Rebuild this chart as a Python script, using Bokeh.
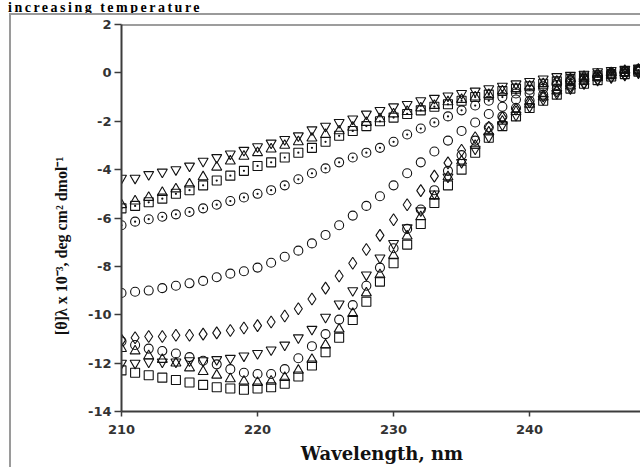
from bokeh.plotting import figure
from bokeh.models import Span, Div, FixedTicker, Range1d
from bokeh.layouts import column
from bokeh.embed import file_html
from bokeh.resources import INLINE

# ---------------- data ----------------
wavelength = list(range(210, 249))

tri_down_top = [-4.35, -4.35, -4.2, -4.1, -4.0, -3.85, -3.65, -3.5, -3.35, -3.2, -3.05,
                -2.9, -2.75, -2.6, -2.35, -2.2, -2.05, -1.9, -1.7, -1.55, -1.4, -1.3,
                -1.15, -1.05, -0.95, -0.85, -0.75, -0.65, -0.55, -0.45, -0.35, -0.25, -0.15,
                -0.1, -0.05, 0.05, 0.1, 0.15, 0.2]
tri_up_top = [-5.45, -5.3, -5.15, -4.95, -4.8, -4.6, -4.3, -3.9, -3.65, -3.45, -3.3,
              -3.15, -3.0, -2.85, -2.7, -2.55, -2.4, -2.25, -2.05, -1.9, -1.7, -1.6,
              -1.45, -1.35, -1.2, -1.1, -1.0, -0.9, -0.75, -0.65, -0.55, -0.45, -0.35,
              -0.25, -0.15, -0.05, 0.0, 0.1, 0.15]
square_dot = [-5.6, -5.5, -5.35, -5.2, -5.0, -4.85, -4.65, -4.45, -4.25, -4.05, -3.85,
              -3.7, -3.5, -3.3, -3.1, -2.85, -2.6, -2.4, -2.2, -2.0, -1.85, -1.7,
              -1.55, -1.4, -1.3, -1.15, -1.0, -0.9, -0.75, -0.65, -0.55, -0.45, -0.35,
              -0.25, -0.15, -0.1, -0.05, 0.05, 0.1]
circle_dot = [-6.3, -6.15, -6.05, -5.95, -5.85, -5.75, -5.6, -5.45, -5.3, -5.15, -5.0,
              -4.85, -4.65, -4.4, -4.15, -3.95, -3.7, -3.5, -3.3, -3.1, -2.85, -2.55,
              -2.3, -2.05, -1.8, -1.55, -1.35, -1.15, -1.0, -0.85, -0.7, -0.55, -0.4,
              -0.3, -0.2, -0.1, 0.0, 0.05, 0.1]
circle_mid = [-9.1, -9.05, -9.0, -8.9, -8.8, -8.7, -8.6, -8.45, -8.3, -8.2, -8.05,
              -7.85, -7.6, -7.35, -7.05, -6.7, -6.3, -5.9, -5.5, -5.1, -4.65, -4.15,
              -3.7, -3.25, -2.8, -2.4, -2.05, -1.7, -1.4, -1.1, -0.85, -0.65, -0.5,
              -0.35, -0.25, -0.15, -0.05, 0.05, 0.1]
diamond = [-11.05, -10.95, -10.9, -10.9, -10.85, -10.85, -10.8, -10.75, -10.65, -10.55,
           -10.45, -10.3, -10.05, -9.75, -9.35, -8.9, -8.4, -7.87, -7.3, -6.72, -6.07,
           -5.45, -4.87, -4.27, -3.72, -3.2, -2.68, -2.25, -1.85, -1.5, -1.2, -0.95, -0.75,
           -0.55, -0.4, -0.25, -0.15, -0.05, 0.05]
tri_up_low = [-11.4, -11.5, -11.7, -11.85, -12.0, -12.2, -12.35, -12.5, -12.65, -12.75,
              -12.8, -12.75, -12.6, -12.3, -11.85, -11.25, -10.6, -9.95, -9.1, -8.35,
              -7.55, -6.75, -5.95, -5.1, -4.3, -3.65, -3.0, -2.45, -2.0, -1.6, -1.3,
              -1.0, -0.75, -0.55, -0.35, -0.2, -0.1, 0.0, 0.1]
circle_low = [-11.1, -11.25, -11.4, -11.5, -11.6, -11.75, -11.9, -12.05, -12.25, -12.4,
              -12.45, -12.45, -12.25, -11.8, -11.3, -10.8, -10.2, -9.6, -8.8, -8.05,
              -7.25, -6.45, -5.65, -4.85, -4.05, -3.4, -2.8, -2.25, -1.8, -1.45, -1.15,
              -0.9, -0.65, -0.45, -0.3, -0.15, -0.05, 0.05, 0.15]
tri_down_low = [-12.0, -12.0, -11.95, -11.95, -11.95, -11.9, -11.9, -11.85, -11.8, -11.7,
                -11.6, -11.45, -11.25, -10.95, -10.6, -10.1, -9.55, -9.0, -8.35, -7.65,
                -7.05, -6.4, -5.7, -5.0, -4.3, -3.7, -3.15, -2.65, -2.15, -1.75, -1.4,
                -1.1, -0.85, -0.65, -0.45, -0.3, -0.2, -0.1, 0.0]
square_low = [-12.3, -12.4, -12.5, -12.6, -12.7, -12.8, -12.9, -13.0, -13.05, -13.1,
               -13.05, -13.0, -12.85, -12.55, -12.1, -11.55, -10.95, -10.22, -9.46, -8.63,
               -7.87, -7.1, -6.25, -5.38, -4.65, -4.0, -3.3, -2.68, -2.2, -1.8, -1.45,
               -1.15, -0.9, -0.65, -0.45, -0.3, -0.15, -0.05, 0.05]

x_ticks = [210, 220, 230, 240]
y_ticks = [-14, -12, -10, -8, -6, -4, -2, 0, 2]
x_title = "Wavelength, nm"
y_title = "[θ]λ x 10⁻³, deg cm² dmol⁻¹"
page_title = "increasing temperature"

# ---------------- layout ----------------
W, H = 631, 454
X0, X1 = 210, 248.3
Y0, Y1 = -14, 2

p = figure(width=W, height=H, output_backend="svg", toolbar_location=None,
           x_range=Range1d(X0, X1), y_range=Range1d(Y0, Y1),
           min_border_left=110, min_border_top=9, min_border_bottom=58,
           min_border_right=0)
p.outline_line_color = None
p.xgrid.visible = False
p.ygrid.visible = False
p.background_fill_color = "white"
p.border_fill_color = "white"
p.margin = (0, 0, 0, 9)
p.styles = {"border-left": "2px solid #9a9a9a", "border-top": "2px solid #9a9a9a"}

AX = "#3c3c3c"
for ax in (p.xaxis[0], p.yaxis[0]):
    ax.axis_line_color = AX
    ax.axis_line_width = 2
    ax.major_tick_line_color = AX
    ax.major_tick_line_width = 1.5
    ax.major_tick_in = 0
    ax.minor_tick_line_color = None
    ax.major_label_text_font = "DejaVu Sans"
    ax.major_label_text_font_style = "bold"
    ax.major_label_text_font_size = "13px"
    ax.major_label_text_color = "#333333"
    ax.axis_label_text_font_style = "bold"
    ax.axis_label_text_color = "#111111"

p.xaxis.ticker = FixedTicker(ticks=x_ticks)
p.yaxis.ticker = FixedTicker(ticks=y_ticks)
p.xaxis.major_tick_out = 5
p.xaxis.major_label_standoff = 8
p.yaxis.major_tick_out = 7
p.yaxis.major_label_standoff = 3
p.yaxis.major_label_overrides = {t: str(t) for t in y_ticks}
p.xaxis.major_label_overrides = {t: str(t) for t in x_ticks}

p.xaxis.axis_label = x_title
p.xaxis.axis_label_text_font = "DejaVu Serif"
p.xaxis.axis_label_text_font_size = "18px"
p.xaxis.axis_label_standoff = 6

p.yaxis.axis_label = y_title + "\u2003\u2003\u2003\u2002"
p.yaxis.axis_label_text_font = "Liberation Serif"
p.yaxis.axis_label_text_font_size = "16px"
p.yaxis.axis_label_standoff = 15

p.add_layout(Span(location=Y1, dimension="width", line_color=AX, line_width=2))

series = [
    (tri_down_top, "inverted_triangle", 10),
    (tri_up_top, "triangle", 10),
    (square_dot, "square_dot", 9),
    (circle_dot, "circle_dot", 9),
    (circle_mid, "circle", 9),
    (diamond, "diamond", 12),
    (tri_up_low, "triangle", 10),
    (circle_low, "circle", 9),
    (tri_down_low, "inverted_triangle", 10),
    (square_low, "square", 9),
]
for vals, mk, sz in series:
    p.scatter(wavelength, vals, marker=mk, size=sz, line_color="#111111",
              line_width=1.1, fill_color=None)

title = Div(text=f'<span style="font: bold 14px \'Liberation Serif\'; line-height: 12px; '
                 f'letter-spacing: 2.5px; white-space: nowrap; color: #000;">{page_title}</span>',
            width=320, height=13, margin=(0, 0, 0, 8))
layout = column(title, p, spacing=0)

open("out.html", "w").write(file_html(layout, INLINE))
